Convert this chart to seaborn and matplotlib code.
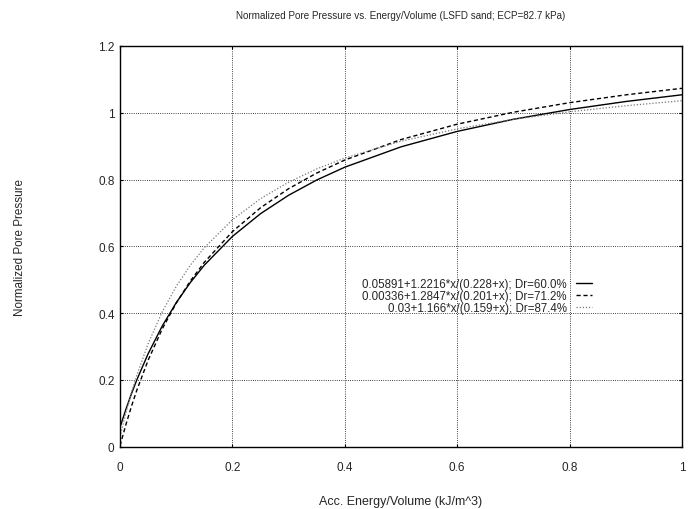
import pandas as pd
import numpy as np
import seaborn as sns
import matplotlib.pyplot as plt

# energy/volume values where curves were read
energy = [0, 0.01, 0.02, 0.03, 0.05, 0.075, 0.1, 0.125, 0.15, 0.2, 0.25, 0.3, 0.35, 0.4, 0.5, 0.6, 0.7, 0.8, 0.9, 1.0]
pp_dr60 = [0.0589, 0.1102, 0.1574, 0.2010, 0.2786, 0.3613, 0.4314, 0.4915, 0.5437, 0.6298, 0.6978, 0.7530, 0.7986, 0.8370, 0.8979, 0.9441, 0.9804, 1.0096, 1.0336, 1.0537]
pp_dr71 = [0.0034, 0.0642, 0.1196, 0.1702, 0.2593, 0.3525, 0.4302, 0.4960, 0.5524, 0.6441, 0.7155, 0.7726, 0.8194, 0.8584, 0.9197, 0.9657, 1.0015, 1.0301, 1.0535, 1.0731]
pp_dr87 = [0.0300, 0.0990, 0.1603, 0.2151, 0.3090, 0.4037, 0.4802, 0.5432, 0.5960, 0.6796, 0.7427, 0.7921, 0.8318, 0.8644, 0.9147, 0.9517, 0.9802, 1.0027, 1.0209, 1.0360]
labels = ["0.05891+1.2216*x/(0.228+x); Dr=60.0%",
          "0.00336+1.2847*x/(0.201+x); Dr=71.2%",
          "0.03+1.166*x/(0.159+x); Dr=87.4%"]

sns.set_style("white")
plt.rcParams['font.family'] = ['Liberation Sans', 'DejaVu Sans']

fig = plt.figure(figsize=(6.98, 5.10), dpi=100)
ax = fig.add_axes([0.172, 0.122, 0.805, 0.786])

sns.lineplot(x=energy, y=pp_dr60, ax=ax, color='black', lw=1.0, label=labels[0])
sns.lineplot(x=energy, y=pp_dr71, ax=ax, color='black', lw=1.0, ls=(0, (3, 2)), label=labels[1])
sns.lineplot(x=energy, y=pp_dr87, ax=ax, color='#777777', lw=0.9, ls=(0, (1, 1.5)), label=labels[2])

ax.set_xlim(0, 1)
ax.set_ylim(0, 1.2)
ax.set_xticks([0, 0.2, 0.4, 0.6, 0.8, 1])
ax.set_xticklabels(['0', '0.2', '0.4', '0.6', '0.8', '1'])
ax.set_yticks([0, 0.2, 0.4, 0.6, 0.8, 1, 1.2])
ax.set_yticklabels(['0', '0.2', '0.4', '0.6', '0.8', '1', '1.2'])
ax.grid(True, ls=':', color='black', lw=0.6)
ax.tick_params(labelsize=8.5, direction='in', length=2.5, width=0.8, color='black',
               top=True, right=True, bottom=True, left=True)
ax.tick_params(axis='x', pad=10)
ax.tick_params(axis='y', pad=4)
for s in ax.spines.values():
    s.set_color('black')
    s.set_linewidth(1.0)

ax.set_title("Normalized Pore Pressure vs. Energy/Volume (LSFD sand; ECP=82.7 kPa)", fontsize=7.1, pad=20)
ax.set_xlabel("Acc. Energy/Volume (kJ/m^3)", fontsize=9, labelpad=16)
ax.set_ylabel("Normalized Pore Pressure", fontsize=8.4, labelpad=52)

ax.legend(loc='upper right', bbox_to_anchor=(598/698, 1 - 273/510), bbox_transform=fig.transFigure,
          frameon=False, markerfirst=False, fontsize=8.3, handlelength=1.4, handletextpad=0.8,
          labelspacing=0.0, borderpad=0)

fig.savefig("out.png", dpi=100)
